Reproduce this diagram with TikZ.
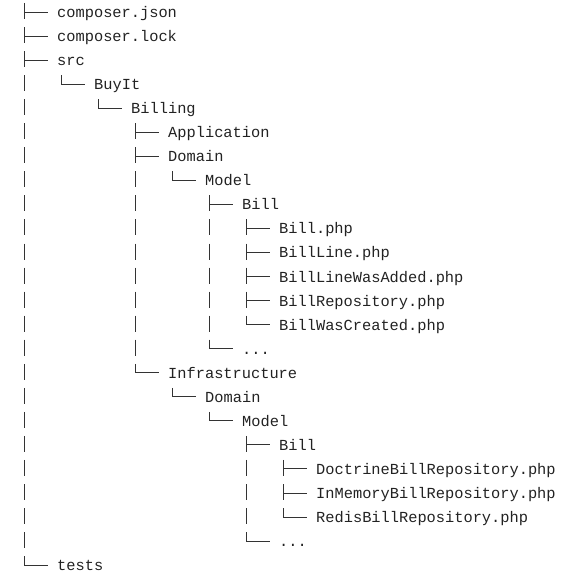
\documentclass[tikz,border=0pt]{standalone}
\usepackage{fontspec}
\setmonofont{Liberation Mono}
\usepackage{tikz}
\definecolor{treeink}{HTML}{222222}
\definecolor{lineink}{HTML}{333333}
\tikzset{
  entry/.style={anchor=west, inner sep=0pt, text height=15pt, text depth=4pt,
    text=treeink, font=\fontsize{15.35}{18}\selectfont\ttfamily},
  branch/.style={draw=lineink, line width=0.95pt},
  trunk/.style={draw=lineink, line width=0.95pt, dash pattern=on 16pt off 8.05pt}
}

\begin{document}
\begin{tikzpicture}[x=1pt, y=-1pt]
      \useasboundingbox (0, 0) rectangle (582, 578);
      % entries, one per row
      \node[entry] (json) at (57, 12) {composer.json};
      \node[entry] (lock) at (57, 36.05) {composer.lock};
      \node[entry] (src) at (57, 60.1) {src};
      \node[entry] (buyit) at (94, 84.15) {BuyIt};
      \node[entry] (billing) at (131, 108.2) {Billing};
      \node[entry] (app) at (168, 132.25) {Application};
      \node[entry] (domain) at (168, 156.3) {Domain};
      \node[entry] (model) at (205, 180.35) {Model};
      \node[entry] (bill) at (242, 204.4) {Bill};
      \node[entry] (billphp) at (279, 228.45) {Bill.php};
      \node[entry] (billline) at (279, 252.5) {BillLine.php};
      \node[entry] (added) at (279, 276.55) {BillLineWasAdded.php};
      \node[entry] (repo) at (279, 300.6) {BillRepository.php};
      \node[entry] (created) at (279, 324.65) {BillWasCreated.php};
      \node[entry] (dots) at (242, 348.7) {...};
      \node[entry] (infra) at (168, 372.75) {Infrastructure};
      \node[entry] (idomain) at (205, 396.8) {Domain};
      \node[entry] (imodel) at (242, 420.85) {Model};
      \node[entry] (ibill) at (279, 444.9) {Bill};
      \node[entry] (doctrine) at (316, 468.95) {DoctrineBillRepository.php};
      \node[entry] (inmemory) at (316, 493) {InMemoryBillRepository.php};
      \node[entry] (redis) at (316, 517.05) {RedisBillRepository.php};
      \node[entry] (idots) at (279, 541.1) {...};
      \node[entry] (tests) at (57, 565.15) {tests};
      % horizontal branches
      \foreach \n in {json, lock, src, buyit, billing, app, domain, model, bill,
          billphp, billline, added, repo, created, dots, infra, idomain, imodel,
          ibill, doctrine, inmemory, redis, idots, tests}
        \draw[branch] ([xshift=-33pt]\n.west) -- ([xshift=-9pt]\n.west);
      % vertical trunks, first child to last child
      \draw[trunk] ([shift={(-33, -9)}]json.west) -- ([xshift=-33pt]tests.west);
      \draw[trunk] ([shift={(-33, -9)}]buyit.west) -- ([xshift=-33pt]buyit.west);
      \draw[trunk] ([shift={(-33, -9)}]billing.west) -- ([xshift=-33pt]billing.west);
      \draw[trunk] ([shift={(-33, -9)}]app.west) -- ([xshift=-33pt]infra.west);
      \draw[trunk] ([shift={(-33, -9)}]model.west) -- ([xshift=-33pt]model.west);
      \draw[trunk] ([shift={(-33, -9)}]bill.west) -- ([xshift=-33pt]dots.west);
      \draw[trunk] ([shift={(-33, -9)}]billphp.west) -- ([xshift=-33pt]created.west);
      \draw[trunk] ([shift={(-33, -9)}]idomain.west) -- ([xshift=-33pt]idomain.west);
      \draw[trunk] ([shift={(-33, -9)}]imodel.west) -- ([xshift=-33pt]imodel.west);
      \draw[trunk] ([shift={(-33, -9)}]ibill.west) -- ([xshift=-33pt]idots.west);
      \draw[trunk] ([shift={(-33, -9)}]doctrine.west) -- ([xshift=-33pt]redis.west);
    \end{tikzpicture}
\end{document}
